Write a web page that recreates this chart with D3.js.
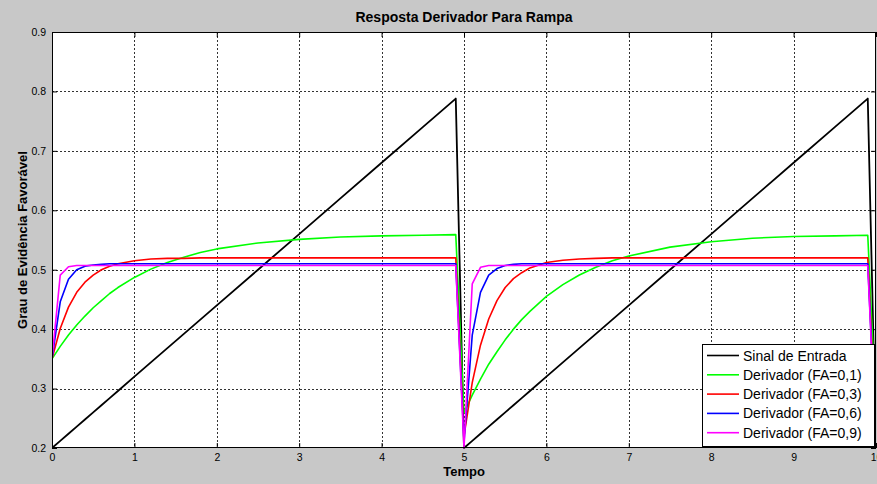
<!DOCTYPE html>
<html>
<head>
<meta charset="utf-8">
<script src="https://cdn.jsdelivr.net/npm/d3@7"></script>
<style>
  html, body { margin: 0; padding: 0; background: #c8c8c8; }
  svg { display: block; }
</style>
</head>
<body>
<svg id="chart" width="877" height="484"></svg>
<script>
// ---------- data ----------
const tempo = [0,0.1,0.2,0.3,0.4,0.5,0.6,0.7,0.8,1.0,1.2,1.4,1.6,1.8,2.0,2.5,3.0,3.5,4.0,4.5,4.9,
               5.0,5.1,5.2,5.3,5.4,5.5,5.6,5.7,5.8,6.0,6.2,6.4,6.6,6.8,7.0,7.5,8.0,8.5,9.0,9.5,9.9,10.0];

const sinalEntrada = [0.2,0.212,0.224,0.236,0.248,0.26,0.272,0.284,0.296,0.32,0.344,0.368,0.392,0.416,0.44,0.5,0.56,0.62,0.68,0.74,0.788,
                      0.2,0.212,0.224,0.236,0.248,0.26,0.272,0.284,0.296,0.32,0.344,0.368,0.392,0.416,0.44,0.5,0.56,0.62,0.68,0.74,0.788,0.2];

const derivFA01 = [0.35,0.371,0.390,0.407,0.422,0.436,0.448,0.460,0.470,0.487,0.501,0.512,0.521,0.529,0.535,0.545,0.551,0.555,0.557,0.558,0.559,
                   0.259,0.289,0.316,0.341,0.362,0.382,0.400,0.416,0.430,0.455,0.475,0.491,0.504,0.515,0.523,0.538,0.547,0.553,0.556,0.557,0.558,0.259];

const derivFA03 = [0.35,0.401,0.437,0.462,0.479,0.491,0.500,0.506,0.510,0.515,0.518,0.519,0.519,0.520,0.520,0.520,0.520,0.520,0.520,0.520,0.520,
                   0.220,0.310,0.373,0.417,0.448,0.470,0.485,0.495,0.503,0.512,0.516,0.518,0.519,0.520,0.520,0.520,0.520,0.520,0.520,0.520,0.520,0.220];

const derivFA06 = [0.35,0.446,0.484,0.500,0.506,0.508,0.509,0.510,0.510,0.510,0.510,0.510,0.510,0.510,0.510,0.510,0.510,0.510,0.510,0.510,0.510,
                   0.210,0.390,0.462,0.491,0.502,0.507,0.509,0.510,0.510,0.510,0.510,0.510,0.510,0.510,0.510,0.510,0.510,0.510,0.510,0.510,0.510,0.210];

const derivFA09 = [0.35,0.491,0.505,0.507,0.507,0.507,0.507,0.507,0.507,0.507,0.507,0.507,0.507,0.507,0.507,0.507,0.507,0.507,0.507,0.507,0.507,
                   0.200,0.476,0.504,0.507,0.507,0.507,0.507,0.507,0.507,0.507,0.507,0.507,0.507,0.507,0.507,0.507,0.507,0.507,0.507,0.507,0.507,0.200];

const seriesNames = ["Sinal de Entrada","Derivador (FA=0,1)","Derivador (FA=0,3)","Derivador (FA=0,6)","Derivador (FA=0,9)"];
const seriesColors = ["#000000","#00ff00","#ff0000","#0000ff","#ff00ff"];
const seriesValues = [sinalEntrada, derivFA01, derivFA03, derivFA06, derivFA09];

const xTickValues = [0,1,2,3,4,5,6,7,8,9,10];
const xTickLabels = ["0","1","2","3","4","5","6","7","8","9","10"];
const yTickValues = [0.2,0.3,0.4,0.5,0.6,0.7,0.8,0.9];
const yTickLabels = ["0.2","0.3","0.4","0.5","0.6","0.7","0.8","0.9"];

const titleText = "Resposta Derivador Para Rampa";
const xLabelText = "Tempo";
const yLabelText = "Grau de Evidência Favorável";

// ---------- layout ----------
const W = 877, H = 484;
const L = 52, R = 876, T = 32, B = 448;
const svg = d3.select("#chart");
const FONT = "'Liberation Sans', Arial, Helvetica, sans-serif";

svg.append("rect").attr("width", W).attr("height", H).attr("fill", "#c8c8c8");

const x = d3.scaleLinear().domain([0, 10]).range([L, R]);
const y = d3.scaleLinear().domain([0.2, 0.9]).range([B, T]);

svg.append("rect").attr("x", L).attr("y", T).attr("width", R - L).attr("height", B - T).attr("fill", "#ffffff");

// grid
const grid = svg.append("g");
grid.selectAll("line.gx").data(xTickValues.slice(1, -1)).enter().append("line")
  .attr("x1", d => Math.round(x(d)) + 0.5).attr("x2", d => Math.round(x(d)) + 0.5)
  .attr("y1", T).attr("y2", B)
  .attr("stroke", "#333").attr("stroke-width", 1).attr("stroke-dasharray", "2,2");
grid.selectAll("line.gy").data(yTickValues.slice(1, -1)).enter().append("line")
  .attr("y1", d => Math.round(y(d)) + 0.5).attr("y2", d => Math.round(y(d)) + 0.5)
  .attr("x1", L).attr("x2", R)
  .attr("stroke", "#333").attr("stroke-width", 1).attr("stroke-dasharray", "2,2");

// axes with inward ticks
const xAxis = d3.axisBottom(x).tickValues(xTickValues).tickFormat((d, i) => xTickLabels[i]).tickSizeInner(-5).tickSizeOuter(0).tickPadding(6);
const yAxis = d3.axisLeft(y).tickValues(yTickValues).tickFormat((d, i) => yTickLabels[i]).tickSizeInner(-5).tickSizeOuter(0).tickPadding(6);
const xAxisTop = d3.axisTop(x).tickValues(xTickValues).tickFormat("").tickSizeInner(-5).tickSizeOuter(0);
const yAxisRight = d3.axisRight(y).tickValues(yTickValues).tickFormat("").tickSizeInner(-5).tickSizeOuter(0);

const gx = svg.append("g").attr("transform", `translate(0,${B})`).call(xAxis);
const gy = svg.append("g").attr("transform", `translate(${L},0)`).call(yAxis);
svg.append("g").attr("transform", `translate(0,${T})`).call(xAxisTop);
svg.append("g").attr("transform", `translate(${R},0)`).call(yAxisRight);
svg.selectAll(".domain").remove();
svg.selectAll(".tick line").attr("stroke", "#000");
gx.selectAll("text").attr("font-family", FONT).attr("font-size", 10.5).attr("fill", "#000");
gy.selectAll("text").attr("font-family", FONT).attr("font-size", 10.5).attr("fill", "#000");

// clip
svg.append("clipPath").attr("id", "clip").append("rect")
  .attr("x", L).attr("y", T - 1).attr("width", R - L).attr("height", B - T + 2);

const line = d3.line().x(d => x(d[0])).y(d => y(d[1]));
const lines = svg.append("g").attr("clip-path", "url(#clip)");
seriesValues.forEach((vals, i) => {
  lines.append("path")
    .datum(tempo.map((t, k) => [t, vals[k]]))
    .attr("d", line)
    .attr("fill", "none")
    .attr("stroke", seriesColors[i])
    .attr("stroke-width", i === 0 ? 1.8 : 1.6)
    .attr("stroke-linejoin", "round");
});

// box
svg.append("rect").attr("x", L + 0.5).attr("y", T + 0.5).attr("width", R - L - 1).attr("height", B - T - 1)
  .attr("fill", "none").attr("stroke", "#000").attr("stroke-width", 1);

// title & labels
svg.append("text").attr("x", (L + R) / 2).attr("y", 22).attr("text-anchor", "middle")
  .attr("font-family", FONT).attr("font-weight", "bold").attr("font-size", 14).text(titleText);
svg.append("text").attr("x", (L + R) / 2).attr("y", 476).attr("text-anchor", "middle")
  .attr("font-family", FONT).attr("font-weight", "bold").attr("font-size", 13).text(xLabelText);
svg.append("text").attr("transform", `translate(27,${(T + B) / 2}) rotate(-90)`).attr("text-anchor", "middle")
  .attr("font-family", FONT).attr("font-weight", "bold").attr("font-size", 13).text(yLabelText);

// legend
const lgX = 702, lgY = 344, lgW = 172, lgH = 102;
const lg = svg.append("g");
lg.append("rect").attr("x", lgX + 0.5).attr("y", lgY + 0.5).attr("width", lgW).attr("height", lgH)
  .attr("fill", "#fff").attr("stroke", "#000").attr("stroke-width", 1);
seriesNames.forEach((name, i) => {
  const cy = lgY + 11.5 + i * 19.3;
  lg.append("line").attr("x1", lgX + 5).attr("x2", lgX + 37).attr("y1", cy).attr("y2", cy)
    .attr("stroke", seriesColors[i]).attr("stroke-width", 1.6);
  lg.append("text").attr("x", lgX + 41).attr("y", cy + 5).attr("font-family", FONT)
    .attr("font-size", 14).attr("fill", "#000").text(name);
});
</script>
</body>
</html>
